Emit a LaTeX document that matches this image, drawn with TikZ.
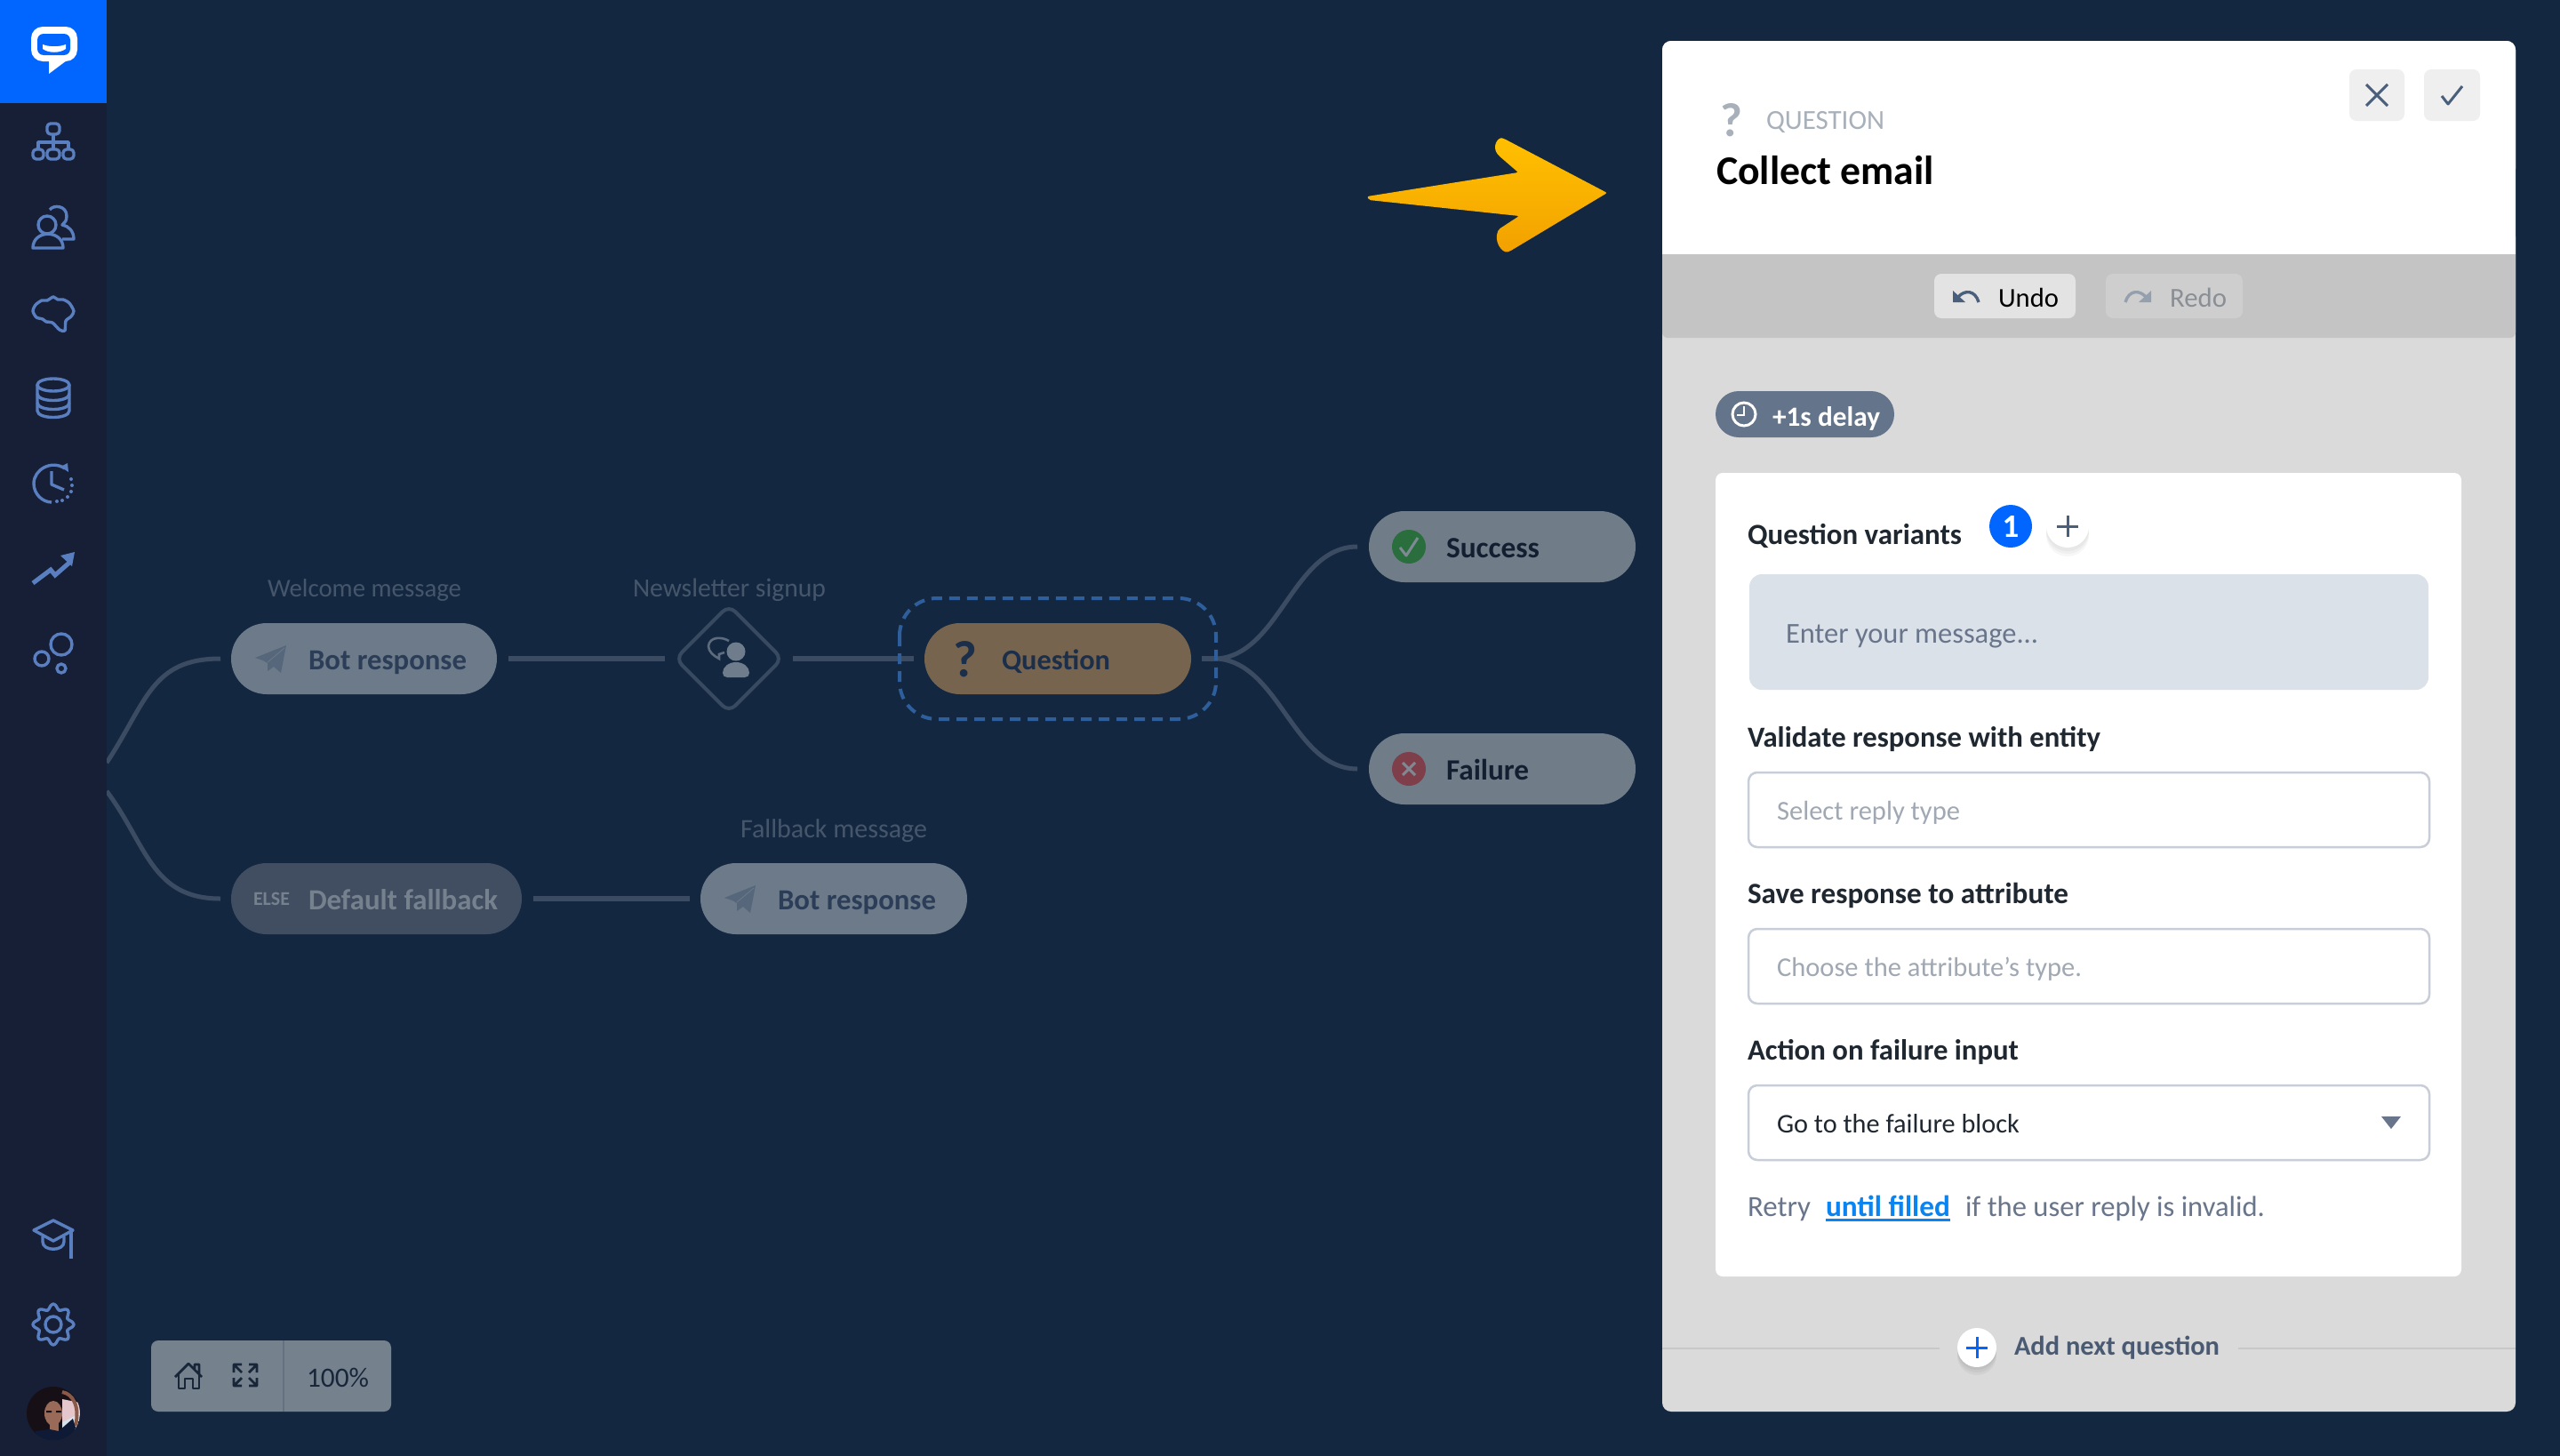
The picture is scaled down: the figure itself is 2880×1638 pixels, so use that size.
\documentclass[tikz,border=0pt]{standalone}
\usepackage{fontspec}
\usepackage{graphicx}
\setmainfont{Carlito}
\newcommand\semi{\bfseries}
\usetikzlibrary{shapes.geometric,calc}
\definecolor{bgmain}{HTML}{132840}
\definecolor{bgside}{HTML}{161F36}
\definecolor{brand}{HTML}{0066FF}
\definecolor{sideicon}{HTML}{5A7FC0}
\definecolor{pillcol}{HTML}{6C7A8A}
\definecolor{pillelse}{HTML}{414E62}
\definecolor{pillout}{HTML}{707C88}
\definecolor{pillq}{HTML}{77644F}
\definecolor{wirecol}{HTML}{3B4C62}
\definecolor{dashcol}{HTML}{2E5F9C}
\definecolor{capcol}{HTML}{45566B}
\definecolor{darktxt}{HTML}{2B3D57}
\definecolor{qtxt}{HTML}{1C2F4A}
\definecolor{nearblack}{HTML}{131F30}
\definecolor{elsetxt}{HTML}{76818E}
\definecolor{planecol}{HTML}{56677C}
\definecolor{personcol}{HTML}{6E7C8C}
\definecolor{tool}{HTML}{76818E}
\definecolor{tooldiv}{HTML}{657180}
\definecolor{toolink}{HTML}{18263A}
\definecolor{okgreen}{HTML}{2A6E3E}
\definecolor{badred}{HTML}{7F3F4A}
\definecolor{panelbody}{HTML}{DADADA}
\definecolor{panelbar}{HTML}{C4C4C4}
\definecolor{btnlight}{HTML}{EFEFEF}
\definecolor{undobtn}{HTML}{E3E3E3}
\definecolor{redobtn}{HTML}{CECECE}
\definecolor{slateink}{HTML}{4A5F7C}
\definecolor{greytxt}{HTML}{A8B0BA}
\definecolor{redotxt}{HTML}{8A8F96}
\definecolor{delaycol}{HTML}{64748A}
\definecolor{labeltxt}{HTML}{1F2730}
\definecolor{msgbox}{HTML}{DBE1E9}
\definecolor{msgtxt}{HTML}{68758A}
\definecolor{inputline}{HTML}{C8CED8}
\definecolor{holdertxt}{HTML}{A0A8B4}
\definecolor{linkcol}{HTML}{0A84F0}
\definecolor{addtxt}{HTML}{4A5A72}
\definecolor{ruleline}{HTML}{C8C8C8}
\definecolor{arrowtop}{HTML}{FFC000}
\definecolor{arrowbot}{HTML}{F2A000}
\definecolor{avhair}{HTML}{170F16}
\definecolor{avbg}{HTML}{E4C6CC}
\definecolor{avwhite}{HTML}{D8E2EA}
\definecolor{avarm}{HTML}{8A5A48}
\definecolor{avface}{HTML}{9A6A58}
\definecolor{avshirt}{HTML}{0E1A36}
\newcommand\fitw[2]{\resizebox{\dimexpr#1pt/2\relax}{!}{#2}}
\newcommand\fith[2]{\resizebox{!}{\dimexpr#1pt/2\relax}{#2}}
\tikzset{
  txt/.style={inner sep=0pt,outer sep=0pt,anchor=base west},
  pill/.style={rectangle,rounded corners=20pt,minimum height=40pt,inner sep=0pt,outer sep=0pt},
  wire/.style={draw=wirecol,line width=3pt},
  thinwire/.style={draw=wirecol,line width=2.5pt},
  sideic/.style={draw=sideicon,line width=1.7pt,line join=round,fill=none},
  inkic/.style={draw=toolink,line width=1.4pt,line join=round},
  inputbox/.style={draw=inputline,line width=1.25pt,fill=white,rounded corners=5pt},
  softbtn/.style={rounded corners=4pt},
}
\newcommand\planeicon[2]{%
  \begin{scope}[shift={(#1,#2)}]
  \fill[planecol] (322,726) -- (287,740) -- (296,743) -- (301,746) -- (301,755) -- (308,750) -- (316,757) -- cycle;
  \draw[pillcol,line width=.4pt] (320,729) -- (301,745);
  \end{scope}}
\begin{document}
\begin{tikzpicture}[x=0.5pt,y=-0.5pt]
\useasboundingbox (0,0) rectangle (2880,1638);
\fill[bgmain] (0,0) rectangle (2880,1638);

% ---- flow nodes
\node[pill,fill=pillcol,minimum width=149.5pt] (bot1) at (409.5,741) {};
\node[pill,fill=pillelse,minimum width=163.5pt] (fallback) at (423.5,1011) {};
\node[pill,fill=pillcol,minimum width=150pt] (bot2) at (938,1011) {};
\node[pill,fill=pillq,minimum width=150pt] (qpill) at (1190,741) {};
\node[pill,fill=pillout,minimum width=150pt] (succ) at (1690,615) {};
\node[pill,fill=pillout,minimum width=150pt] (fail) at (1690,865) {};
\node[diamond,draw=capcol!75!bgmain,line width=2pt,rounded corners=5pt,minimum width=60pt,minimum height=60pt,inner sep=0pt,outer sep=0pt,aspect=1] (dia) at (820,741) {};
\coordinate (hub) at (1370,741);
\coordinate (topin) at (120,858);
\coordinate (botin) at (120,890);

% ---- connectors
\draw[wire,shorten <=6.5pt,shorten >=6pt] (bot1.east) -- (dia.west);
\draw[wire,shorten <=6pt,shorten >=6pt] (dia.east) -- (qpill.west);
\draw[wire,shorten <=6.5pt,shorten >=6pt] (fallback.east) -- (bot2.west);
\draw[wire,shorten <=6pt] (qpill.east) -- (hub);
\draw[thinwire,shorten >=6.5pt] (hub) .. controls (1440,735) and (1455,615) .. (succ.west);
\draw[thinwire,shorten >=6.5pt] (hub) .. controls (1440,747) and (1455,865) .. (fail.west);
\draw[thinwire,shorten >=6pt] (topin) .. controls (165,790) and (170,741) .. (bot1.west);
\draw[thinwire,shorten >=6pt] (botin) .. controls (165,950) and (170,1011) .. (fallback.west);

% ---- dashed selection
\draw[dashcol,line width=2pt,rounded corners=21pt,dash pattern=on 6pt off 4pt] (1012,673) rectangle (1368,809);

% ---- flow texts
\node[txt,text=capcol] (capwelcome) at (301,671) {\fitw{218}{Welcome message}};
\node[txt,text=capcol] (capnews) at (712,671) {\fitw{217}{Newsletter signup}};
\node[txt,text=capcol] (capfall) at (833,942) {\fitw{210}{Fallback message}};
\planeicon{0}{0}
\node[txt,text=darktxt] (tbot1) at (347,753) {\fitw{178}{\semi Bot response}};
\node[txt,text=elsetxt] (telse) at (285,1018) {\fitw{41}{\bfseries ELSE}};
\node[txt,text=elsetxt] (tfall) at (347,1023) {\fitw{213}{\semi Default fallback}};
\planeicon{528}{270}
\node[txt,text=darktxt] (tbot2) at (875,1023) {\fitw{178}{\semi Bot response}};
\node[txt,text=qtxt,anchor=base] (tqmark) at (1086,761) {\fith{40}{\bfseries ?}};
\node[txt,text=qtxt] (tq) at (1127,753) {\fitw{122}{\semi Question}};
\fill[okgreen] (1585,615) circle[radius=19];
\draw[pillout!90!white,line width=1.5pt,line join=round] (1575,616) -- (1582,625) -- (1595,605);
\node[txt,text=nearblack] (tsucc) at (1627,627) {\fitw{105}{\semi Success}};
\fill[badred] (1585,865) circle[radius=19];
\draw[pillout!90!white,line width=1.5pt] (1578,858) -- (1592,872) (1592,858) -- (1578,872);
\node[txt,text=nearblack] (tfail) at (1627,877) {\fitw{93}{\semi Failure}};

% person in diamond
\fill[personcol] (828,733) circle[radius=10.5];
\fill[personcol] (813,757) .. controls (813,750) and (820,745) .. (828,745) .. controls (836,745) and (843,750) .. (843,757) .. controls (843,760) and (841,762) .. (838,762) -- (818,762) .. controls (815,762) and (813,760) .. (813,757) -- cycle;
\draw[personcol!80!bgmain,line width=1.3pt] (820,721) .. controls (812,716) and (798,716) .. (797,727) .. controls (797,733) and (803,738) .. (809,741) -- (809,736) -- (815,734);

% ---- sidebar
\fill[bgside] (0,0) rectangle (120,1638);
\fill[brand] (0,0) rectangle (120,116);
\fill[white,rounded corners=6.5pt] (35,30) rectangle (87,69);
\fill[white] (55,64) -- (55,83) -- (75,68) -- cycle;
\fill[brand,rounded corners=3.5pt] (42,38) rectangle (79,62);
\fill[white] (48,50) .. controls (56,53) and (66,53) .. (74,50) -- (74,55) .. controls (67,60) and (55,60) .. (48,55) -- cycle;

% org chart
\draw[sideic,rounded corners=2pt] (53,139) rectangle (67,151);
\draw[sideic,rounded corners=2pt] (37,168) rectangle (49,179);
\draw[sideic,rounded corners=2pt] (53,168) rectangle (67,179);
\draw[sideic,rounded corners=2pt] (71,168) rectangle (83,179);
\draw[sideic] (60,151) -- (60,168) (43,168) -- (43,160) -- (77,160) -- (77,168);
% users
\draw[sideic] (53,253) circle[radius=10];
\draw[sideic] (37,279) .. controls (37,258) and (71,258) .. (71,279) -- cycle;
\draw[sideic] (56,236) .. controls (60,230) and (75,231) .. (75,243) .. controls (75,248) and (73,251) .. (70,253) .. controls (77,254) and (83,260) .. (83,269) -- (70,269);
% brain
\draw[sideic] plot[smooth cycle,tension=.45] coordinates {(37,350) (40,343) (47,338) (53,338) (60,334) (65,337) (71,337) (78,341) (83,350) (80,356) (74,361) (73,372) (67,371) (59,363) (52,362) (48,359) (41,357)};
% database
\draw[sideic] (60,433) ellipse[x radius=18,y radius=7];
\draw[sideic] (42,433) -- (42,462) .. controls (42,472) and (78,472) .. (78,462) -- (78,433);
\draw[sideic] (42,443) .. controls (42,453) and (78,453) .. (78,443);
\draw[sideic] (42,453) .. controls (42,463) and (78,463) .. (78,453);
% clock
\draw[sideic] (73,527) .. controls (58,517) and (38,528) .. (38,544) .. controls (38,556) and (48,565) .. (58,565);
\fill[sideicon] (77,531) -- (76,521) -- (68,525) -- cycle;
\foreach \dotx/\doty in {64/564,70/563,76/559,80/553,81/546,80/539}{\fill[sideicon] (\dotx,\doty) circle[radius=2];}
\draw[sideic] (58,530) -- (58,545) -- (72,551);
% trend
\draw[sideic,line width=2.5pt,line join=miter] (37,656) -- (57,641) -- (62,647) -- (78,633);
\fill[sideicon] (84,621) -- (68,625) -- (81,637) -- cycle;
% bubbles
\draw[sideic] (69,725) circle[radius=12];
\draw[sideic] (47,741) circle[radius=8];
\draw[sideic] (69,752) circle[radius=5];
% hat
\draw[sideic] (60,1373) -- (38,1384) -- (60,1396) -- (82,1384) -- cycle;
\draw[sideic] (48,1391) -- (48,1397) .. controls (48,1408) and (72,1408) .. (72,1397) -- (72,1391);
\draw[sideic] (80,1385) -- (80,1416);
% gear
\begin{scope}[shift={(60,1490)}]
\draw[sideic] plot[smooth cycle,domain=0:352,samples=48] (\x:{20+3*cos(8*\x)});
\draw[sideic] (0,0) circle[radius=9];
\end{scope}
% avatar
\begin{scope}
\clip (60,1590) circle[radius=30];
\fill[avhair] (30,1560) rectangle (90,1620);
\fill[avbg] (70,1574) -- (90,1578) -- (90,1592) -- (70,1602) -- cycle;
\fill[avwhite] (70,1600) -- (90,1590) -- (88,1606) -- (70,1614) -- cycle;
\draw[avarm,line width=2pt] (70,1566) .. controls (82,1568) and (90,1582) .. (85,1604);
\fill[avface] (60,1590) ellipse[x radius=10,y radius=14];
\fill[avface] (56,1600) rectangle (66,1610);
\fill[avhair] (52,1587) rectangle (58,1589) (63,1587) rectangle (69,1589);
\fill[avshirt] (40,1610) -- (56,1608) -- (66,1610) -- (82,1596) -- (90,1622) -- (38,1622) -- cycle;
\end{scope}

% ---- toolbar
\fill[tool,rounded corners=4pt] (170,1508) rectangle (440,1588);
\draw[tooldiv,line width=1pt] (319,1508) -- (319,1588);
\draw[inkic] (197,1549) -- (212,1534) -- (227,1549) (219,1541) -- (219,1535) -- (224,1535) -- (224,1546);
\draw[inkic] (201,1546) -- (201,1562) -- (208,1562) -- (208,1551) -- (217,1551) -- (217,1562) -- (224,1562) -- (224,1546);
\draw[inkic] (263,1544) -- (263,1535) -- (272,1535) (263,1535) -- (272,1544);
\draw[inkic] (289,1544) -- (289,1535) -- (280,1535) (289,1535) -- (280,1544);
\draw[inkic] (263,1550) -- (263,1559) -- (272,1559) (263,1559) -- (272,1550);
\draw[inkic] (289,1550) -- (289,1559) -- (280,1559) (289,1559) -- (280,1550);
\node[txt,text=toolink] (tzoom) at (345,1560) {\fitw{70}{100\%}};

% ---- yellow arrow
\shade[top color=arrowtop,bottom color=arrowbot,middle color=arrowtop!55!arrowbot,rounded corners=1pt]
 (1808,217) -- (1698,283) .. controls (1690,285) and (1680,272) .. (1686,258) -- (1709,243) -- (1540,225) -- (1538,221) -- (1708,194) -- (1686,175) .. controls (1678,165) and (1685,154) .. (1692,156) -- cycle;

% ---- panel
\fill[panelbody,rounded corners=5pt] (1870,46) rectangle (2830,1588);
\fill[panelbar,rounded corners=3pt] (1870,260) rectangle (2830,380);
\fill[white,rounded corners=5pt] (1870,46) rectangle (2830,200);
\fill[white] (1870,100) rectangle (2830,286);

\fill[btnlight,softbtn] (2643,78) rectangle (2705,136);
\fill[btnlight,softbtn] (2727,78) rectangle (2790,136);
\draw[slateink,line width=1.5pt] (2662,95) -- (2686,119) (2686,95) -- (2662,119);
\draw[slateink,line width=1.5pt,line join=round] (2747,108) -- (2754,117) -- (2770,97);
\node[txt,text=greytxt,anchor=base] (thq) at (1948,153) {\fith{37}{\bfseries ?}};
\node[txt,text=greytxt] (thead) at (1987,145) {\fitw{133}{QUESTION}};
\node[txt,text=black] (ttitle) at (1931,207) {\fitw{245}{\semi Collect email}};

\fill[undobtn,softbtn] (2176,308) rectangle (2335,358);
\fill[redobtn,softbtn] (2369,308) rectangle (2523,358);
\draw[slateink,line width=1.7pt] (2226,340) .. controls (2222,326) and (2210,326) .. (2203,334);
\fill[slateink] (2197,327) -- (2197,340) -- (2211,340) -- cycle;
\draw[greytxt!80!slateink,line width=1.7pt] (2391,340) .. controls (2395,326) and (2407,326) .. (2414,334);
\fill[greytxt!80!slateink] (2420,327) -- (2420,340) -- (2406,340) -- cycle;
\node[txt,text=black] (tundo) at (2248,345) {\fitw{68}{Undo}};
\node[txt,text=redotxt] (tredo) at (2441,345) {\fitw{64}{Redo}};

\fill[delaycol,rounded corners=13pt] (1930,440) rectangle (2131,492);
\draw[white,line width=1.5pt] (1962,466) circle[radius=13];
\draw[white,line width=1.2pt] (1962,457) -- (1962,467) -- (1954,467);
\node[txt,text=white] (tdelay) at (1994,479) {\fitw{121}{\semi +1s delay}};

\fill[white,rounded corners=4pt] (1930,532) rectangle (2769,1436);
\node[txt,text=labeltxt] (tvar) at (1966,612) {\fitw{241}{\semi Question variants}};
\fill[brand] (2262,592) circle[radius=24];
\node[inner sep=0pt,text=white,anchor=center] (tone) at (2262,592) {\fith{24}{\bfseries 1}};
\foreach \sh in {10,7,4}{\fill[black,opacity=.03] (2326,592+\sh) circle[radius=24];}
\fill[white] (2326,592) circle[radius=24];
\draw[slateink,line width=1.5pt] (2314,592) -- (2338,592) (2326,580) -- (2326,604);
\fill[msgbox,rounded corners=7pt] (1968,646) rectangle (2732,776);
\node[txt,text=msgtxt] (tmsg) at (2009,723) {\fitw{284}{Enter your message...}};

\node[txt,text=labeltxt] (tval) at (1966,840) {\fitw{397}{\semi Validate response with entity}};
\draw[inputbox] (1967,869) rectangle (2733,953);
\node[txt,text=holdertxt] (tsel) at (1999,922) {\fitw{206}{Select reply type}};
\node[txt,text=labeltxt] (tsave) at (1966,1016) {\fitw{361}{\semi Save response to attribute}};
\draw[inputbox] (1967,1045) rectangle (2733,1129);
\node[txt,text=holdertxt] (tch) at (1999,1098) {\fitw{343}{Choose the attribute’s type.}};
\node[txt,text=labeltxt] (tact) at (1966,1192) {\fitw{305}{\semi Action on failure input}};
\draw[inputbox] (1967,1221) rectangle (2733,1305);
\node[txt,text=labeltxt] (tgo) at (1999,1274) {\fitw{273}{Go to the failure block}};
\fill[msgtxt] (2679,1256) -- (2701,1256) -- (2690,1270) -- cycle;
\node[txt,text=msgtxt] (tretry) at (1966,1368) {\fitw{71}{Retry}};
\node[txt,text=linkcol] (tuntil) at (2054,1368) {\fitw{140}{\semi until filled}};
\draw[linkcol,line width=1.5pt] (2054,1372) -- (2194,1372);
\node[txt,text=msgtxt] (tif) at (2211,1368) {\fitw{337}{if the user reply is invalid.}};

\draw[ruleline,line width=1pt] (1870,1517) -- (2182,1517) (2518,1517) -- (2830,1517);
\foreach \sh in {9,6,3}{\fill[black,opacity=.04] (2224,1516+\sh) circle[radius=22];}
\fill[white] (2224,1516) circle[radius=22];
\draw[brand,line width=1.5pt] (2212,1516) -- (2236,1516) (2224,1504) -- (2224,1528);
\node[txt,text=addtxt] (tadd) at (2266,1524) {\fitw{231}{\semi Add next question}};
\end{tikzpicture}
\end{document}
